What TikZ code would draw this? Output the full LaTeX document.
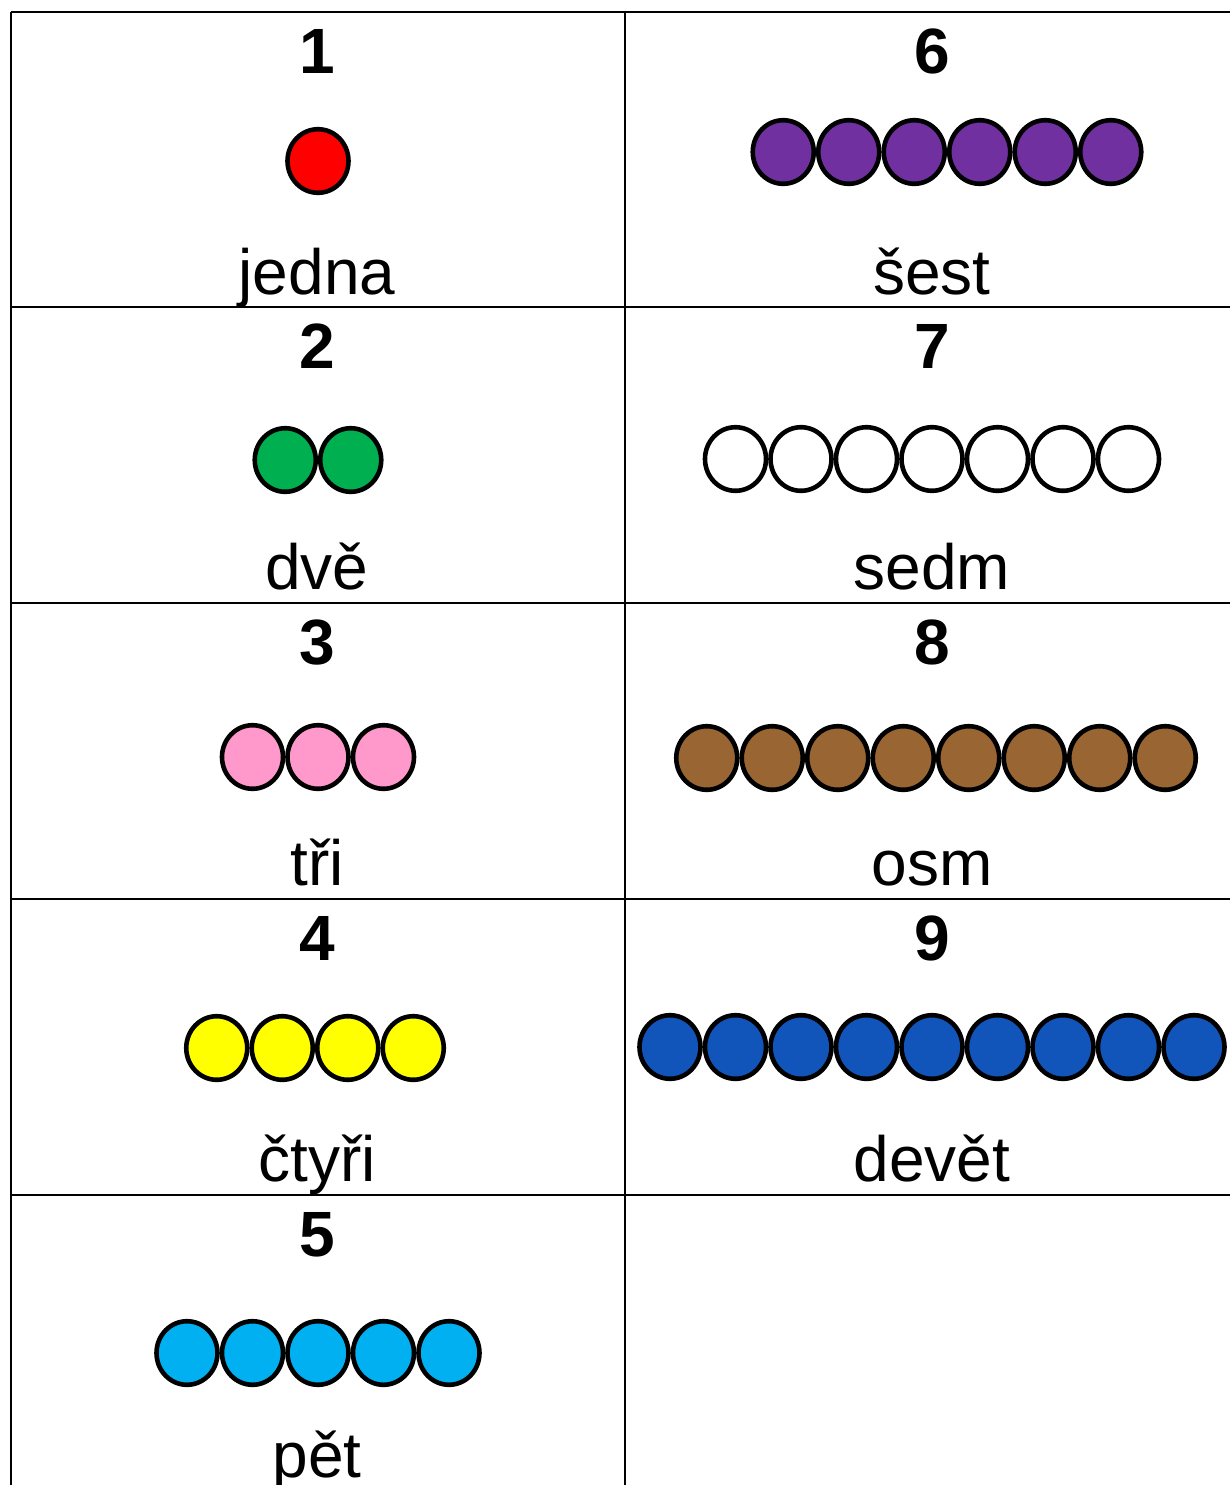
\documentclass[tikz,border=0pt]{standalone}
\usepackage{fontspec}
\setmainfont{Liberation Sans}
\usetikzlibrary{shapes.geometric,positioning}
\definecolor{beadred}{HTML}{FF0000}
\definecolor{beadgreen}{HTML}{00B050}
\definecolor{beadpink}{HTML}{FF99CC}
\definecolor{beadyellow}{HTML}{FFFF00}
\definecolor{beadcyan}{HTML}{00B0F0}
\definecolor{beadpurple}{HTML}{7030A0}
\definecolor{beadbrown}{HTML}{996633}
\definecolor{beadblue}{HTML}{1155BA}

\begin{document}
\begin{tikzpicture}[x=0.5pt,y=-0.5pt,%
		   number/.style={font=\fontsize{32}{38}\selectfont\bfseries,anchor=base,inner sep=0pt},
		   word/.style={font=\fontsize{32}{38}\selectfont,anchor=base,inner sep=0pt},
		   bead/.style={ellipse,draw=black,line width=2.3pt,minimum width=30.5pt,minimum height=31.8pt,inner sep=0pt},
		   grid/.style={draw=black,line width=1pt}]

	\useasboundingbox (0,0) rectangle (1230,1485);

	% table lines
	\foreach \top in {12,307,603,899,1195}
	    \draw[grid] (11,\top) -- (1230,\top);
	\draw[grid] (11,12) -- (11,1485);
	\draw[grid] (625,12) -- (625,1485);

	    \foreach \num/\word/\col/\cx/\top/\by in {%
		    1/jedna/beadred/318/12/161,%
		    2/dvě/beadgreen/318/307/460,%
		    3/tři/beadpink/318/603/757,%
		    4/čtyři/beadyellow/315/899/1048,%
		    5/pět/beadcyan/318/1195/1353,%
		    6/šest/beadpurple/947/12/152,%
		    7/sedm/white/932/307/459,%
		    8/osm/beadbrown/936/603/758,%
		    9/devět/beadblue/932/899/1047%
	       } { \pgfmathsetmacro\tx{\num<6 ? 317 : 932}
		   \node[number] (n\num) at (\tx,\top+61) {\num};
		   \node[word] (w\num) at (\tx,\top+282) {\word};
		   \foreach \i in {1,...,\num}
		       \node[bead,fill=\col] (b\num-\i) at ({\cx+(\i-(\num+1)/2)*65.5},\by) {};
	       }
	\end{tikzpicture}
\end{document}
